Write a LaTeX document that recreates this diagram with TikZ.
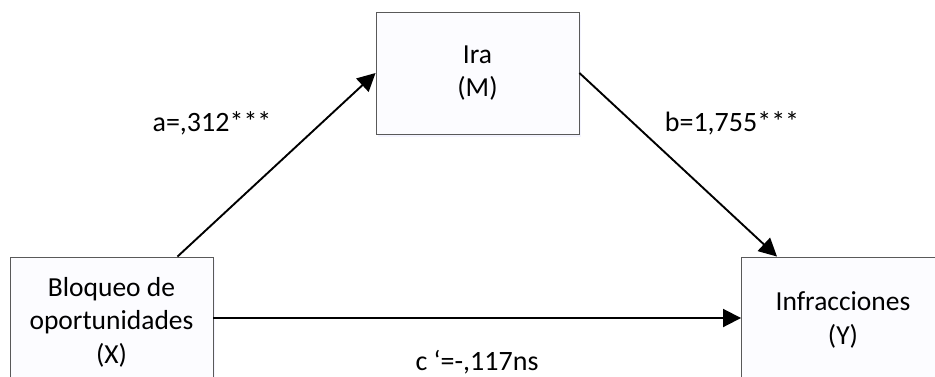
\documentclass[tikz,border=0pt]{standalone}
\usepackage{fontspec}
\setmainfont{Carlito}
\usetikzlibrary{arrows.meta,shadows}
\begin{document}
\begin{tikzpicture}[x=1pt,y=-1pt,
  varbox/.style={draw=black!65, line width=0.9pt, fill=blue!1, rectangle, align=center,
    inner sep=0pt, minimum width=203pt,
    drop shadow={fill=blue!7, shadow xshift=2pt, shadow yshift=-3pt, opacity=0.6},
    font=\fontsize{27.5}{33.5}\selectfont},
  lbl/.style={font=\fontsize{28}{32}\selectfont, inner sep=0pt},
  arr/.style={line width=1.9pt, -{Triangle[length=18pt,width=18pt]}}]
\useasboundingbox (0,0) rectangle (935,376);
\clip (0,0) rectangle (935,376);
\fill[white] (0,0) rectangle (935,376);
\node[varbox, minimum height=122pt] (M) at (477.5,73) {Ira\\(M)};
\node[varbox, minimum height=130pt] (X) at (111.5,322) {Bloqueo de\\oportunidades\\(X)};
\node[varbox, minimum height=126pt] (Y) at (843,320) {Infracciones\\(Y)};
\draw[arr] ([xshift=66pt]X.north) -- (M.west);
\draw[arr] (M.east) -- ([xshift=-66pt]Y.north);
\draw[arr] ([yshift=4pt]X.east) -- ([yshift=2pt]Y.west);
\node[lbl] (la) at (212,123) {a=,312***};
\node[lbl] (lb) at (732,123) {b=1,755***};
\node[lbl] (lc) at (477,362) {c ‘=-,117ns};
\end{tikzpicture}
\end{document}
